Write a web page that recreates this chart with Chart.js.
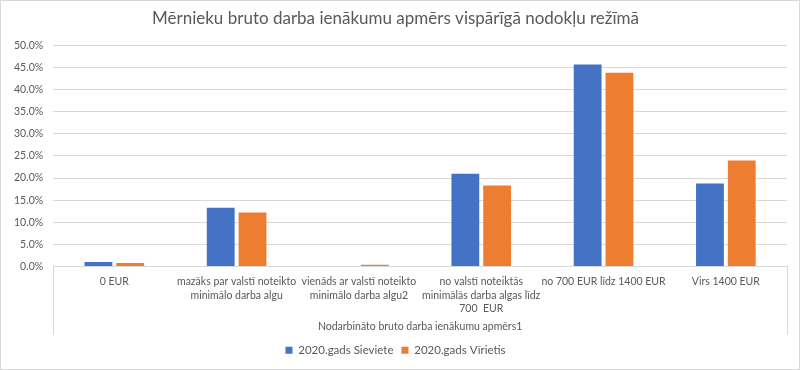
<!DOCTYPE html>
<html>
<head>
<meta charset="utf-8">
<script src="https://cdn.jsdelivr.net/npm/chart.js@4"></script>
<style>
  html, body { margin: 0; padding: 0; background: #fff; }
  #wrap { width: 800px; height: 370px; position: relative; }
</style>
</head>
<body>
<div id="wrap"><canvas id="chart"></canvas></div>
<script>
// dati nolasīti no attēla (procenti)
const categories = [
    '0 EUR',
    ['mazāks par valstī noteikto', 'minimālo darba algu'],
    ['vienāds ar valstī noteikto', 'minimālo darba algu2'],
    ['no valstī noteiktās', 'minimālās darba algas līdz', '700  EUR'],
    'no 700 EUR līdz 1400 EUR',
    'Virs 1400 EUR'
];
const sievietes = [1.0, 13.3, 0.0, 21.0, 45.7, 18.8];
const virieši = [0.8, 12.2, 0.4, 18.3, 43.8, 24.0];
const seriesNames = ['2020.gads Sieviete', '2020.gads Vīrietis'];
const yMax = 50;
const yStep = 5;

const textColor = '#595959';
const gridColor = '#d9d9d9';
const fontFamily = 'Lato, "Open Sans", sans-serif';

// ārējais rāmis un asu kaste kā Excel diagrammā
const framePlugin = {
    id: 'frame',
    afterDraw(chart) {
        const { ctx, chartArea } = chart;
        ctx.save();
        ctx.strokeStyle = gridColor;
        ctx.lineWidth = 1;
        ctx.beginPath();
        ctx.moveTo(Math.round(chartArea.left) + 0.5, chartArea.bottom);
        ctx.lineTo(Math.round(chartArea.left) + 0.5, 335);
        ctx.moveTo(Math.round(chartArea.right) + 0.5, chartArea.bottom);
        ctx.lineTo(Math.round(chartArea.right) + 0.5, 335);
        ctx.stroke();
        ctx.strokeRect(0.5, 0.5, chart.width - 1, chart.height - 1);
        ctx.restore();
    }
};

new Chart(document.getElementById('chart'), {
    type: 'bar',
    data: {
        labels: categories,
        datasets: [
            {
                label: seriesNames[0],
                data: sievietes,
                backgroundColor: '#4472c4',
                borderWidth: 0
            },
            {
                label: seriesNames[1],
                data: virieši,
                backgroundColor: '#ed7d31',
                borderWidth: 0
            }
        ]
    },
    options: {
        responsive: true,
        maintainAspectRatio: false,
        animation: false,
        devicePixelRatio: 1,
        layout: { padding: { left: 4, right: 13, top: 0, bottom: 4 } },
        datasets: { bar: { categoryPercentage: 0.52, barPercentage: 0.875 } },
        plugins: {
            title: {
                display: true,
                text: 'Mērnieku bruto darba ienākumu apmērs vispārīgā nodokļu režīmā',
                color: textColor,
                font: { family: fontFamily, size: 17, weight: 'normal' },
                padding: { top: 8, bottom: 17 }
            },
            legend: {
                position: 'bottom',
                labels: {
                    color: textColor,
                    font: { family: fontFamily, size: 11.5 },
                    boxWidth: 7,
                    boxHeight: 7,
                    padding: 8
                }
            },
            tooltip: { enabled: false }
        },
        scales: {
            x: {
                grid: { display: false },
                border: { display: true, color: gridColor },
                ticks: {
                    color: textColor,
                    font: { family: fontFamily, size: 10.5, lineHeight: 1.25 },
                    maxRotation: 0,
                    autoSkip: false,
                    padding: 1
                },
                title: {
                    display: true,
                    text: 'Nodarbināto bruto darba ienākumu apmērs1',
                    color: textColor,
                    font: { family: fontFamily, size: 10.5 },
                    padding: { top: 4, bottom: 4 }
                }
            },
            y: {
                min: 0,
                max: yMax,
                grid: { color: gridColor, drawTicks: false },
                border: { display: false },
                ticks: {
                    stepSize: yStep,
                    color: textColor,
                    font: { family: fontFamily, size: 10.5 },
                    padding: 10,
                    callback: v => v.toFixed(1) + '%'
                }
            }
        }
    },
    plugins: [framePlugin]
});
</script>
</body>
</html>
